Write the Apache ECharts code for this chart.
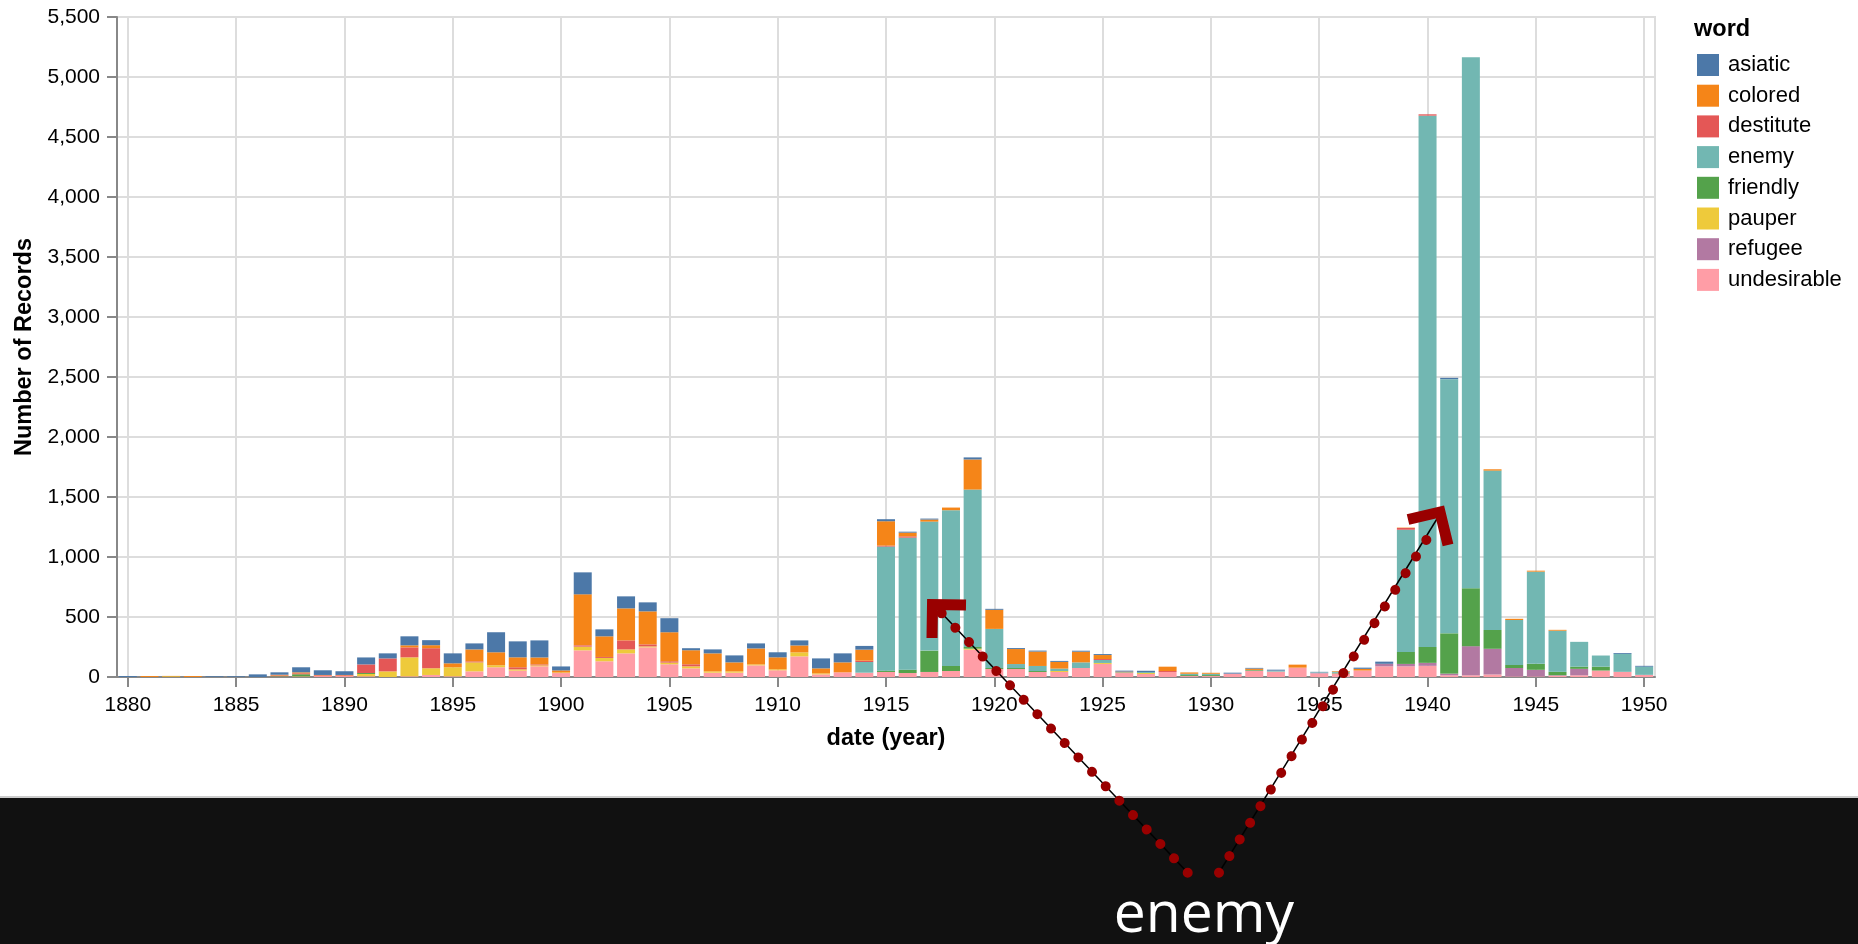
<!DOCTYPE html>
<html>
<head>
<meta charset="utf-8">
<script src="https://cdn.jsdelivr.net/npm/echarts@6/dist/echarts.min.js"></script>
<style>
html,body{margin:0;padding:0;background:#fff;}
#chart{width:1858px;height:944px;}
</style>
</head>
<body>
<div id="chart"></div>
<script>
// ---- data ----
const years = [];
for (let y = 1880; y <= 1950; y++) years.push(String(y));

const words = ['asiatic', 'colored', 'destitute', 'enemy', 'friendly', 'pauper', 'refugee', 'undesirable'];
const wordColors = ['#4c78a8', '#f58518', '#e45756', '#72b7b2', '#54a24b', '#eeca3b', '#b279a2', '#ff9da6'];

const asiatic = [
  8,0,0,0,6,6,22,20,42,39,
  31,58,42,75,42,83,50,167,133,142,
  33,183,58,100,75,117,17,33,58,42,
  42,42,83,75,31,17,8,8,0,17,
  8,8,8,8,8,8,8,11,0,0,
  0,8,6,8,0,3,0,10,18,0,
  0,11,0,0,0,0,0,0,0,7,7];
const colored = [
  0,8,3,8,0,0,0,6,8,3,
  3,0,0,17,25,33,100,108,83,58,
  17,425,172,267,275,242,117,150,75,133,
  100,58,42,83,92,203,31,17,22,251,
  159,125,120,56,89,33,6,0,36,11,
  8,0,11,0,25,0,5,14,0,3,
  0,0,0,11,10,8,7,0,0,0,0];
const destitute = [
  0,0,0,0,0,0,0,6,8,6,
  6,72,108,83,167,0,8,0,17,8,
  0,11,8,75,17,11,17,0,0,0,
  0,0,0,0,11,8,11,0,0,0,
  0,0,0,0,0,8,0,0,8,0,
  0,0,0,0,0,0,0,0,0,15,
  11,0,0,0,0,0,0,0,0,0,0];
const enemy = [
  0,0,0,0,0,0,0,0,0,0,
  0,0,0,0,0,0,0,0,0,0,
  0,0,0,0,0,0,0,0,0,0,
  0,0,0,0,89,1034,1100,1075,1298,1312,
  326,33,42,20,47,25,6,8,0,11,
  11,0,0,8,0,5,10,0,0,1018,
  4428,2118,4425,1328,375,768,343,207,93,150,68];
const friendly = [
  0,0,0,0,0,0,0,4,17,0,
  0,8,0,0,0,0,0,0,0,0,
  0,0,0,0,0,0,0,0,0,0,
  0,0,0,0,0,11,28,178,42,14,
  8,8,8,0,0,0,0,0,0,8,
  8,0,6,0,0,0,5,0,0,100,
  132,336,482,157,25,50,28,18,32,0,0];
const pauper = [
  0,0,6,0,0,0,0,0,3,0,
  0,19,47,158,56,75,75,17,11,8,
  5,31,28,33,8,14,17,11,11,8,
  8,33,8,0,0,0,0,0,0,8,
  0,0,0,8,0,8,0,8,0,0,
  0,0,0,0,0,0,0,0,0,0,
  0,0,0,0,0,0,0,0,0,0,0];
const refugee = [
  0,0,0,0,0,0,0,0,0,0,
  0,0,0,0,0,0,0,0,0,0,
  0,0,0,0,0,0,0,0,0,0,
  0,0,0,0,0,0,0,0,0,0,
  0,0,0,0,0,0,0,0,0,0,
  0,0,0,0,0,5,0,0,21,20,
  25,14,243,214,70,55,5,54,0,0,0];
const undesirable = [
  0,0,0,0,0,0,0,3,3,8,
  8,6,0,6,17,6,47,81,53,89,
  33,222,131,197,247,106,72,36,36,97,
  56,172,22,39,36,42,33,42,50,228,
  67,67,42,42,75,109,33,25,42,8,
  8,28,53,45,78,30,30,54,89,89,
  93,14,14,21,5,5,10,14,54,43,18];

const seriesValues = {asiatic, colored, destitute, enemy, friendly, pauper, refugee, undesirable};
const annotationWord = 'enemy';

// ---- chart ----
const FONT = '"Liberation Sans", Arial, Helvetica, sans-serif';
const chart = echarts.init(document.getElementById('chart'), null, {renderer: 'canvas'});

// stacking order: bottom = undesirable ... top = asiatic
const stackOrder = words.slice().reverse();
const series = stackOrder.map(w => ({
  name: w,
  type: 'bar',
  stack: 'total',
  barWidth: 18,
  itemStyle: {color: wordColors[words.indexOf(w)]},
  emphasis: {disabled: true},
  data: seriesValues[w]
}));

// annotation overlay geometry (pixels)
const RED = '#990000';
const leftPath = {from: [941.7, 613.3], to: [1187.7, 872.7], steps: 18, lineStart: [934, 605]};
const rightPath = {from: [1219, 872.7], to: [1436.7, 523.3], steps: 21, lineEnd: [1440, 514]};
function dist(a, b) { return Math.hypot(b[0] - a[0], b[1] - a[1]); }

const graphics = [
  {type: 'rect', z: 100, shape: {x: 0, y: 797, width: 1858, height: 147}, style: {fill: '#111111'}},
  {type: 'line', z: 101, shape: {x1: 0, y1: 797, x2: 1858, y2: 797}, style: {stroke: '#cccccc', lineWidth: 2}},
  {type: 'text', z: 102, x: 1204, y: 944, style: {text: annotationWord, fill: '#ffffff', font: '57px "Open Sans", "Noto Sans", sans-serif', textAlign: 'center', textVerticalAlign: 'bottom'}},
  // thin black guide lines
  {type: 'polyline', z: 110, shape: {points: [leftPath.lineStart, leftPath.to]}, style: {stroke: '#000', lineWidth: 1.5, fill: null}},
  {type: 'polyline', z: 110, shape: {points: [rightPath.from, rightPath.lineEnd]}, style: {stroke: '#000', lineWidth: 1.5, fill: null}},
  // dotted red lines
  {type: 'polyline', z: 111, shape: {points: [leftPath.from, leftPath.to]},
    style: {stroke: RED, lineWidth: 10, lineCap: 'round', lineDash: [0.01, dist(leftPath.from, leftPath.to) / leftPath.steps - 0.01], fill: null}},
  {type: 'polyline', z: 111, shape: {points: [rightPath.from, rightPath.to]},
    style: {stroke: RED, lineWidth: 10, lineCap: 'round', lineDash: [0.01, dist(rightPath.from, rightPath.to) / rightPath.steps - 0.01], fill: null}},
  // arrow heads
  {type: 'polyline', z: 112, shape: {points: [[966, 605], [932.5, 604.5], [932, 638]]},
    style: {stroke: RED, lineWidth: 11, lineJoin: 'miter', lineCap: 'butt', fill: null}},
  {type: 'polyline', z: 112, shape: {points: [[1408, 519.5], [1440, 512], [1448, 545]]},
    style: {stroke: RED, lineWidth: 11, lineJoin: 'miter', lineCap: 'butt', fill: null}}
];

const option = {
  animation: false,
  backgroundColor: '#ffffff',
  textStyle: {fontFamily: FONT},
  title: {
    text: 'word', left: 1694, top: 18, padding: 0,
    textStyle: {fontFamily: FONT, fontSize: 23.5, fontWeight: 'bold', color: '#000'}
  },
  legend: {
    orient: 'vertical', left: 1697, top: 54, padding: 0,
    itemWidth: 22, itemHeight: 22, itemGap: 8.7, icon: 'rect',
    selectedMode: false,
    data: words,
    textStyle: {fontFamily: FONT, fontSize: 22, color: '#000', padding: [0, 0, 0, 4]}
  },
  grid: {
    left: 117, top: 17, width: 1538, height: 660,
    show: true, borderColor: '#dddddd', borderWidth: 2, backgroundColor: 'transparent'
  },
  xAxis: {
    type: 'category',
    data: years,
    boundaryGap: true,
    name: 'date (year)',
    nameLocation: 'middle',
    nameGap: 49.5,
    nameTextStyle: {fontFamily: FONT, fontSize: 23.5, fontWeight: 'bold', color: '#000'},
    axisLine: {show: true, lineStyle: {color: '#888888', width: 2}},
    axisTick: {show: true, interval: 4, alignWithLabel: true, length: 10, lineStyle: {color: '#888888', width: 2}},
    axisLabel: {interval: 4, margin: 17.5, fontFamily: FONT, fontSize: 21, color: '#000'},
    splitLine: {show: true, interval: 4, alignWithLabel: true, lineStyle: {color: '#dddddd', width: 2}}
  },
  yAxis: {
    type: 'value',
    min: 0, max: 5500, interval: 500,
    name: 'Number of Records',
    nameLocation: 'middle',
    nameGap: 77,
    nameRotate: 90,
    nameTextStyle: {fontFamily: FONT, fontSize: 23.5, fontWeight: 'bold', color: '#000'},
    axisLine: {show: true, lineStyle: {color: '#888888', width: 2}},
    axisTick: {show: true, length: 10, lineStyle: {color: '#888888', width: 2}},
    axisLabel: {margin: 17, fontFamily: FONT, fontSize: 21, color: '#000',
      formatter: v => v.toLocaleString('en-US')},
    splitLine: {show: true, lineStyle: {color: '#dddddd', width: 2}}
  },
  series: series,
  graphic: {elements: graphics}
};
chart.setOption(option);
</script>
</body>
</html>
